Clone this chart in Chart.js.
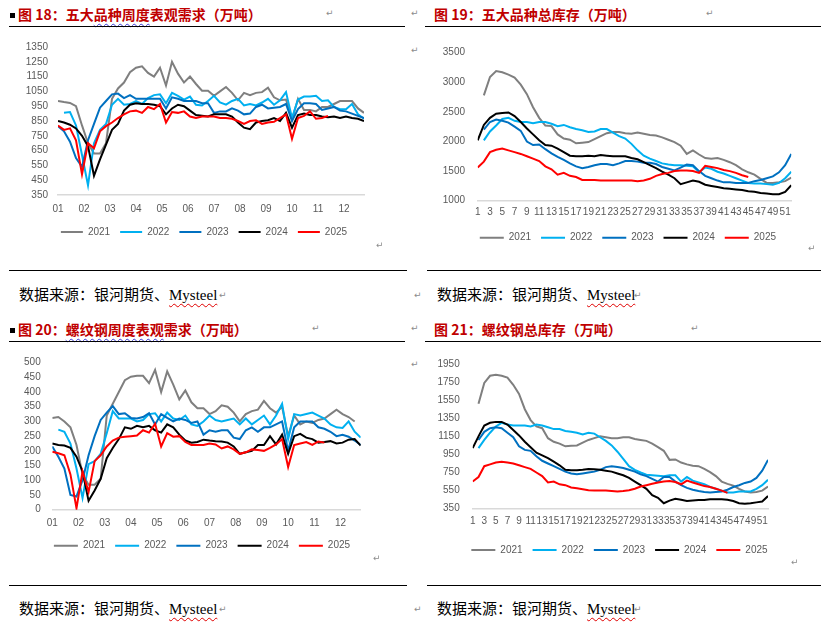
<!DOCTYPE html>
<html>
<head>
<meta charset="utf-8">
<script src="https://cdn.jsdelivr.net/npm/chart.js@4.4.1/dist/chart.umd.min.js"></script>
<style>
  html, body { margin: 0; padding: 0; background: #fff; }
  body { position: relative; width: 825px; height: 623px; overflow: hidden; font-family: "Noto Sans CJK SC", sans-serif; }
  .title { position: absolute; font-size: 14px; line-height: 16px; font-weight: bold; color: #c00000; white-space: nowrap; }
  .title .sq { display: inline-block; width: 5px; height: 5px; background: #000; margin: 0 3px 2px 1px; vertical-align: middle; }
  .spell { text-decoration: underline wavy #3b3bd6; text-decoration-thickness: 1px; text-underline-offset: 3px; }
  .rule { position: absolute; height: 1px; background: #000; }
  .src { position: absolute; font-size: 15px; line-height: 18px; white-space: nowrap; color: #000; }
  .src .en { font-family: "Liberation Serif", serif; text-decoration: underline wavy #e00000; text-decoration-thickness: 1px; text-underline-offset: 3px; }
  .mark { position: absolute; font-family: "DejaVu Sans", sans-serif; font-size: 9px; line-height: 10px; color: #8c8c8c; }
  .box { position: absolute; }
</style>
</head>
<body>

<div class="title" style="left:9px;top:6px"><span class="sq"></span>图 18：五大<span class="spell">品种周度</span>表观需求（万吨）</div>
<div class="title" style="left:434px;top:6px">图 19：五大品种总库存（万吨）</div>
<div class="rule" style="left:9px;top:26px;width:396px"></div>
<div class="rule" style="left:425px;top:26px;width:396px"></div>

<div class="title" style="left:9px;top:321px"><span class="sq"></span>图 20：<span class="spell">螺纹钢周度表观</span>需求（万吨）</div>
<div class="title" style="left:434px;top:321px">图 21：螺纹钢总库存（万吨）</div>
<div class="rule" style="left:9px;top:341px;width:396px"></div>
<div class="rule" style="left:425px;top:341px;width:396px"></div>

<div class="box" style="left:9px;top:30px"><canvas id="c18" width="396" height="232"></canvas></div>
<div class="box" style="left:425px;top:30px"><canvas id="c19" width="396" height="232"></canvas></div>
<div class="box" style="left:9px;top:345px"><canvas id="c20" width="396" height="232"></canvas></div>
<div class="box" style="left:425px;top:345px"><canvas id="c21" width="396" height="232"></canvas></div>

<div class="rule" style="left:9px;top:270px;width:398px"></div>
<div class="rule" style="left:427px;top:270px;width:394px"></div>
<div class="rule" style="left:9px;top:585px;width:398px"></div>
<div class="rule" style="left:427px;top:585px;width:394px"></div>

<div class="src" style="left:19px;top:285px">数据来源：银河期货、<span class="en">Mysteel</span></div>
<div class="src" style="left:437px;top:285px">数据来源：银河期货、<span class="en">Mysteel</span></div>
<div class="src" style="left:19px;top:599px">数据来源：银河期货、<span class="en">Mysteel</span></div>
<div class="src" style="left:437px;top:599px">数据来源：银河期货、<span class="en">Mysteel</span></div>

<div class="mark" style="left:326px;top:8px">↵</div>
<div class="mark" style="left:706px;top:8px">↵</div>
<div class="mark" style="left:411px;top:8px">↵</div>
<div class="mark" style="left:411px;top:45px">↵</div>
<div class="mark" style="left:376px;top:240px">↵</div>
<div class="mark" style="left:808px;top:243px">↵</div>
<div class="mark" style="left:219px;top:290px">↵</div>
<div class="mark" style="left:414px;top:290px">↵</div>
<div class="mark" style="left:634px;top:290px">↵</div>
<div class="mark" style="left:312px;top:323px">↵</div>
<div class="mark" style="left:691px;top:323px">↵</div>
<div class="mark" style="left:411px;top:323px">↵</div>
<div class="mark" style="left:411px;top:359px">↵</div>
<div class="mark" style="left:373px;top:553px">↵</div>
<div class="mark" style="left:791px;top:557px">↵</div>
<div class="mark" style="left:219px;top:604px">↵</div>
<div class="mark" style="left:414px;top:604px">↵</div>
<div class="mark" style="left:634px;top:604px">↵</div>

<script>
// 年份 / 颜色
const years = ['2021', '2022', '2023', '2024', '2025'];
const colors = ['#7f7f7f', '#00b0f0', '#0070c0', '#000000', '#ff0000'];

// 月份刻度（图18、图20）
const monthLabels = ['01', '02', '03', '04', '05', '06', '07', '08', '09', '10', '11', '12'];
// 周刻度（图19、图21）
const weekLabels = [1, 3, 5, 7, 9, 11, 13, 15, 17, 19, 21, 23, 25, 27, 29, 31, 33, 35, 37, 39, 41, 43, 45, 47, 49, 51];

// 图18 五大品种周度表观需求 (week 0..51)
const demand5_2021 = [985, 978, 972, 950, 820, 700, 630, 630, 700, 1000, 1070, 1110, 1180, 1210, 1220, 1175, 1150, 1210, 1090, 1250, 1170, 1110, 1150, 1100, 1055, 1055, 1020, 1050, 1080, 1040, 990, 1040, 1025, 1040, 1045, 1075, 1010, 990, 995, 860, 1000, 925, 925, 915, 945, 945, 965, 985, 985, 985, 935, 905];
const demand5_2022 = [null, 905, 910, 820, 620, 415, 700, 790, 830, 960, 1000, 960, 965, 985, 965, 1005, 1025, 1030, 970, 1040, 1020, 995, 1015, 960, 955, 985, 1020, 975, 960, 985, 1000, 955, 965, 955, 975, 1000, 960, 990, 1045, 870, 995, 1015, 1015, 1020, 985, 990, 945, 930, 930, 965, 895, 865];
const demand5_2023 = [815, 780, 710, 600, 540, 720, 830, 940, 985, 1030, 1035, 1005, 1025, 1000, 1000, 1000, 1000, 1000, 935, 1010, 1000, 985, 985, 985, 970, 970, 905, 915, 915, 935, 920, 895, 900, 945, 960, 935, 940, 945, 965, 850, 930, 970, 970, 965, 925, 935, 945, 920, 915, 900, 885, 870];
const demand5_2024 = [850, 840, 825, 800, 750, 680, 480, 590, 690, 790, 830, 920, 960, 970, 965, 965, 960, 950, 895, 935, 960, 950, 920, 890, 885, 880, 895, 895, 895, 880, 840, 805, 795, 840, 850, 855, 870, 850, 905, 805, 890, 900, 890, 890, 880, 875, 880, 870, 880, 870, 865, 850];
const demand5_2025 = [820, 790, 800, 720, 490, 700, 665, 780, 815, 840, 870, 895, 915, 920, 905, 945, 930, 965, 840, 910, 905, 915, 880, 870, 880, 880, 880, 870, 870, 865, 850, 830, 850, 855, 830, 840, 845, 870, 895, 730, 870, 885, 915, 865, 870, 885];

// 图19 五大品种总库存 (week 1..52)
const stock5_2021 = [null, 2780, 3090, 3190, 3170, 3130, 3080, 2960, 2800, 2580, 2400, 2270, 2260, 2120, 2050, 2030, 1970, 1980, 1990, 2040, 2090, 2140, 2160, 2160, 2140, 2130, 2150, 2130, 2110, 2100, 2070, 2030, 1990, 1930, 1790, 1850, 1780, 1720, 1710, 1720, 1690, 1650, 1600, 1530, 1480, 1440, 1370, 1300, 1300, 1310, 1330, 1390];
const stock5_2022 = [null, 2020, 2170, 2270, 2380, 2400, 2350, 2330, 2330, 2310, 2330, 2330, 2300, 2260, 2280, 2240, 2210, 2190, 2160, 2170, 2210, 2210, 2150, 2090, 2050, 1960, 1850, 1760, 1710, 1670, 1630, 1610, 1600, 1600, 1590, 1580, 1480, 1560, 1540, 1490, 1460, 1420, 1380, 1340, 1300, 1290, 1290, 1280, 1270, 1300, 1380, 1490];
const stock5_2023 = [null, 2200, 2330, 2370, 2350, 2320, 2250, 2180, 2000, 1940, 1950, 1870, 1800, 1740, 1690, 1630, 1580, 1550, 1570, 1600, 1620, 1620, 1600, 1630, 1670, 1670, 1660, 1640, 1640, 1620, 1570, 1540, 1510, 1560, 1610, 1600, 1500, 1420, 1380, 1340, 1310, 1310, 1300, 1300, 1300, 1330, 1350, 1380, 1410, 1480, 1600, 1790];
const stock5_2024 = [2020, 2280, 2400, 2470, 2480, 2490, 2430, 2330, 2220, 2120, 2020, 1940, 1930, 1880, 1820, 1760, 1750, 1750, 1760, 1750, 1770, 1760, 1750, 1750, 1750, 1720, 1700, 1650, 1600, 1550, 1490, 1440, 1380, 1280, 1310, 1340, 1320, 1270, 1250, 1230, 1210, 1200, 1190, 1180, 1160, 1150, 1130, 1120, 1110, 1110, 1150, 1260];
const stock5_2025 = [1560, 1660, 1820, 1860, 1880, 1850, 1820, 1790, 1750, 1710, 1670, 1580, 1530, 1440, 1470, 1420, 1400, 1350, 1350, 1350, 1340, 1340, 1340, 1340, 1340, 1340, 1330, 1340, 1370, 1420, 1450, 1470, 1500, 1510, 1510, 1500, 1470, 1590, 1570, 1550, 1520, 1500, 1470, 1430, 1400];

// 图20 螺纹钢周度表观需求 (week 0..51)
const rebarDemand_2021 = [312, 315, 300, 280, 220, 120, 85, 85, 105, 320, 360, 400, 440, 452, 455, 455, 430, 475, 400, 470, 425, 375, 405, 365, 345, 345, 325, 335, 355, 350, 330, 300, 325, 335, 340, 370, 345, 330, 350, 250, 320, 290, 300, 295, 305, 310, 325, 340, 325, 315, 300];
const rebarDemand_2022 = [null, 272, 265, 225, 140, 40, 155, 165, 190, 260, 335, 310, 310, 310, 300, 305, 325, 328, 300, 330, 310, 305, 320, 290, 285, 300, 320, 305, 300, 305, 310, 290, 310, 290, 305, 320, 290, 320, 360, 240, 325, 320, 325, 330, 320, 310, 290, 280, 278, 300, 265, 245];
const rebarDemand_2023 = [215, 180, 140, 50, 45, 100, 185, 250, 305, 330, 352, 325, 328, 312, 310, 315, 328, 290, 325, 312, 300, 310, 305, 295, 300, 255, 270, 265, 270, 270, 245, 240, 270, 280, 265, 280, 280, 290, 300, 200, 280, 300, 300, 300, 280, 275, 265, 250, 255, 248, 235, 220];
const rebarDemand_2024 = [225, 220, 218, 210, 180, 130, 30, 65, 105, 175, 210, 240, 280, 275, 285, 280, 285, 270, 262, 290, 280, 255, 235, 228, 230, 238, 235, 233, 232, 228, 215, 190, 195, 200, 220, 220, 250, 222, 255, 190, 250, 258, 245, 240, 228, 230, 233, 225, 228, 238, 240, 218];
const rebarDemand_2025 = [197, 192, 185, 120, 5, 130, 60, 165, 185, 215, 235, 245, 248, 250, 252, 270, 262, 292, 215, 260, 248, 250, 230, 220, 220, 220, 225, 222, 208, 215, 205, 190, 195, 205, 203, 200, 210, 222, 240, 145, 220, 225, 230, 220, 232, 228];

// 图21 螺纹钢总库存 (week 1..52)
const rebarStock_2021 = [null, 1510, 1740, 1820, 1830, 1820, 1800, 1720, 1620, 1450, 1330, 1260, 1240, 1130, 1090, 1070, 1040, 1045, 1050, 1080, 1110, 1130, 1150, 1140, 1130, 1130, 1140, 1140, 1120, 1110, 1100, 1070, 1030, 990, 890, 895, 860, 840, 825, 820, 790, 755, 710, 650, 625, 605, 570, 540, 530, 535, 550, 595];
const rebarStock_2022 = [null, 1020, 1110, 1190, 1260, 1300, 1280, 1270, 1270, 1270, 1260, 1280, 1270, 1250, 1230, 1230, 1210, 1200, 1190, 1170, 1190, 1180, 1140, 1100, 1050, 980, 900, 820, 780, 750, 725, 720, 715, 710, 720, 720, 650, 700, 660, 640, 620, 590, 570, 550, 530, 530, 540, 540, 540, 570, 610, 670];
const rebarStock_2023 = [null, 1110, 1200, 1240, 1250, 1240, 1190, 1140, 1040, 1000, 990, 930, 880, 850, 820, 790, 760, 740, 730, 740, 750, 760, 780, 810, 820, 810, 800, 780, 760, 730, 710, 680, 650, 700, 700, 650, 610, 580, 560, 545, 535, 530, 535, 540, 560, 590, 610, 635, 650, 690, 770, 890];
const rebarStock_2024 = [1020, 1150, 1270, 1300, 1310, 1310, 1280, 1220, 1160, 1090, 1030, 970, 940, 910, 870, 830, 780, 775, 775, 780, 790, 785, 780, 770, 760, 740, 720, 690, 650, 610, 570, 500, 470, 410, 440, 460, 450, 435, 440, 445, 445, 455, 455, 455, 450, 435, 410, 405, 410, 420, 430, 490];
const rebarStock_2025 = [650, 700, 820, 840, 860, 870, 860, 850, 830, 810, 790, 750, 710, 640, 650, 620, 610, 585, 575, 565, 555, 550, 550, 550, 545, 540, 545, 555, 570, 595, 610, 625, 640, 650, 655, 645, 620, 660, 640, 620, 600, 590, 570, 550, 525];

const tickFont = { family: 'Liberation Sans', size: 10 };
const tickColor = '#595959';

// move the bottom legend sideways after layout
Chart.register({
    id: 'legendShift',
    afterLayout(chart, args, o) {
        if (chart.legend && o.dx) {
            chart.legend.left += o.dx;
            chart.legend.right += o.dx;
        }
    }
});

function makeChart(id, series, opt) {
    const datasets = series.map((vals, i) => ({
        label: years[i],
        data: vals.map((v, k) => ({ x: opt.first + k, y: v })),
        borderColor: colors[i],
        backgroundColor: colors[i],
        borderWidth: 2,
        pointRadius: 0,
        tension: 0,
        order: series.length - 1 - i
    }));

    // eslint-disable-next-line
    return new Chart(document.getElementById(id), {
        type: 'line',
        data: { datasets: datasets },
        options: {
            responsive: false,
            animation: false,
            events: [],
            layout: { padding: opt.pad },
            plugins: {
                tooltip: { enabled: false },
                legendShift: { dx: opt.legendDx },
                legend: {
                    position: 'bottom',
                    labels: {
                        font: tickFont,
                        color: tickColor,
                        boxWidth: opt.boxW,
                        boxHeight: 2,
                        padding: 10,
                        generateLabels: (chart) => Chart.defaults.plugins.legend.labels.generateLabels(chart)
                            .map(l => Object.assign(l, { lineWidth: 0, fillStyle: l.strokeStyle })),
                        sort: (a, b) => a.datasetIndex - b.datasetIndex
                    }
                }
            },
            scales: {
                x: {
                    type: 'linear',
                    min: opt.xMin,
                    max: opt.xMax,
                    grid: { display: false, drawTicks: false },
                    border: { color: '#d9d9d9', width: 1.5 },
                    ticks: {
                        font: tickFont, color: tickColor, padding: opt.xPad,
                        autoSkip: false, maxRotation: 0, minRotation: 0,
                        callback: (val, idx) => opt.xLabels[idx]
                    },
                    afterBuildTicks: (s) => { s.ticks = opt.xTickPos.map(v => ({ value: v })); },
                    afterFit: (s) => { s.height = opt.xH; }
                },
                y: {
                    min: opt.yMin,
                    max: opt.yMax,
                    grid: { display: false, drawTicks: false },
                    border: { display: false },
                    ticks: {
                        stepSize: opt.yStep, font: tickFont, color: tickColor, padding: opt.yPad,
                        autoSkip: false, callback: (v) => String(v)
                    },
                    afterFit: (s) => { s.width = opt.yW; }
                }
            }
        }
    });
}

const monthPos = monthLabels.map((m, i) => i * 52 / 12);

makeChart('c18', [demand5_2021, demand5_2022, demand5_2023, demand5_2024, demand5_2025], {
    first: 0, xMin: 0, xMax: 51, xTickPos: monthPos, xLabels: monthLabels,
    yMin: 350, yMax: 1350, yStep: 100,
    pad: { left: 13, right: 41, top: 17, bottom: 15 }, yW: 36, yPad: 10, xH: 22, xPad: 8, boxW: 22, legendDx: 11
});

makeChart('c19', [stock5_2021, stock5_2022, stock5_2023, stock5_2024, stock5_2025], {
    first: 1, xMin: 1, xMax: 52, xTickPos: weekLabels, xLabels: weekLabels.map(String),
    yMin: 1000, yMax: 3500, yStep: 500,
    pad: { left: 14.7, right: 29.7, top: 22.7, bottom: 9.3 }, yW: 38, yPad: 12.7, xH: 22, xPad: 6, boxW: 24, legendDx: 12.4
});

makeChart('c20', [rebarDemand_2021, rebarDemand_2022, rebarDemand_2023, rebarDemand_2024, rebarDemand_2025], {
    first: 0, xMin: 0, xMax: 51, xTickPos: monthPos, xLabels: monthLabels,
    yMin: 0, yMax: 500, yStep: 50,
    pad: { left: 11.3, right: 44.3, top: 17, bottom: 16.3 }, yW: 32, yPad: 11.6, xH: 21, xPad: 8, boxW: 24, legendDx: 11.5
});

makeChart('c21', [rebarStock_2021, rebarStock_2022, rebarStock_2023, rebarStock_2024, rebarStock_2025], {
    first: 1, xMin: 1, xMax: 52, xTickPos: weekLabels, xLabels: weekLabels.map(String),
    yMin: 350, yMax: 1950, yStep: 200,
    pad: { left: 9.7, right: 53, top: 19, bottom: 12 }, yW: 38, yPad: 13, xH: 26.3, xPad: 7, boxW: 24, legendDx: 18.1
});
</script>
</body>
</html>
